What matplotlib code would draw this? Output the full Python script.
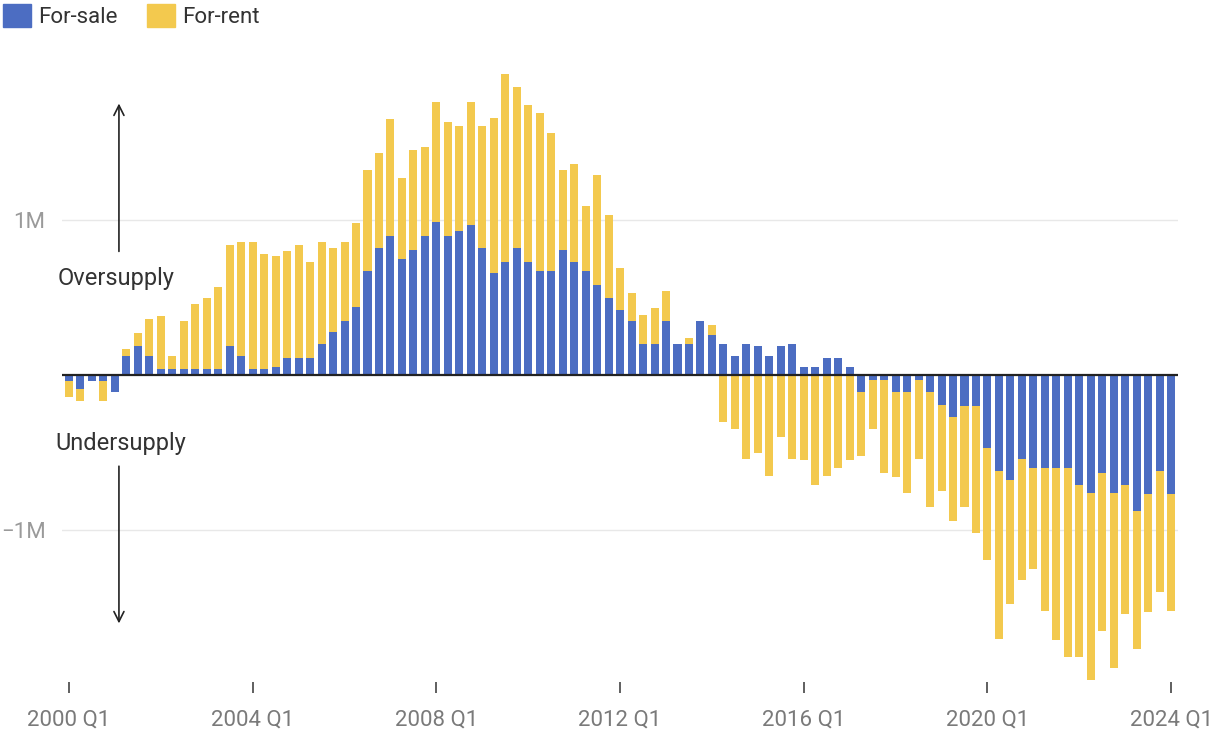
import numpy as np
import matplotlib
matplotlib.use("Agg")
import matplotlib.pyplot as plt
from matplotlib.patches import Patch

plt.rcParams['font.family'] = ['Roboto', 'DejaVu Sans']

# quarterly housing supply gap, millions of units, 2000 Q1 .. 2024 Q1
start_year = 2000
for_sale = [-0.04, -0.09, -0.04, -0.04, -0.11, 0.12, 0.19, 0.12, 0.04, 0.04,
            0.04, 0.04, 0.04, 0.04, 0.19, 0.12, 0.04, 0.04, 0.05, 0.11,
            0.11, 0.11, 0.20, 0.28, 0.35, 0.44, 0.67, 0.82, 0.90, 0.75,
            0.81, 0.90, 0.99, 0.90, 0.93, 0.97, 0.82, 0.66, 0.73, 0.82,
            0.73, 0.67, 0.67, 0.81, 0.73, 0.67, 0.58, 0.50, 0.42, 0.35,
            0.20, 0.20, 0.35, 0.20, 0.20, 0.35, 0.26, 0.20, 0.12, 0.20,
            0.19, 0.12, 0.19, 0.20, 0.05, 0.05, 0.11, 0.11, 0.05, -0.11,
            -0.03, -0.03, -0.11, -0.11, -0.03, -0.11, -0.19, -0.27, -0.20, -0.20,
            -0.47, -0.62, -0.68, -0.54, -0.60, -0.60, -0.60, -0.60, -0.71, -0.76,
            -0.63, -0.76, -0.71, -0.88, -0.77, -0.62, -0.77]
for_rent = [-0.10, -0.08, 0.00, -0.13, 0.00, 0.05, 0.08, 0.24, 0.34, 0.08,
            0.31, 0.42, 0.46, 0.53, 0.65, 0.74, 0.82, 0.74, 0.72, 0.69,
            0.73, 0.62, 0.66, 0.54, 0.51, 0.54, 0.65, 0.61, 0.75, 0.52,
            0.64, 0.57, 0.77, 0.73, 0.68, 0.79, 0.79, 1.00, 1.21, 1.04,
            1.01, 1.02, 0.89, 0.51, 0.63, 0.42, 0.71, 0.53, 0.27, 0.18,
            0.19, 0.23, 0.19, 0.00, 0.04, 0.00, 0.06, -0.30, -0.35, -0.54,
            -0.50, -0.65, -0.40, -0.54, -0.55, -0.71, -0.65, -0.60, -0.55, -0.41,
            -0.32, -0.60, -0.55, -0.65, -0.51, -0.74, -0.56, -0.67, -0.65, -0.82,
            -0.72, -1.08, -0.80, -0.78, -0.65, -0.92, -1.11, -1.22, -1.11, -1.21,
            -1.02, -1.13, -0.83, -0.89, -0.76, -0.78, -0.75]

blue = "#4C6DC2"
yellow = "#F3C94E"

sale = np.array(for_sale)
rent = np.array(for_rent)
x = np.arange(len(sale))
# rent stacks on top of sale when both point the same way
rent_bottom = np.where(np.sign(sale) == np.sign(rent), sale, 0)

fig = plt.figure(figsize=(12.13, 7.33), dpi=100)
ax = fig.add_axes([0.0512, 0.0696, 0.920, 0.8416])

ax.bar(x, sale, width=0.7, color=blue, zorder=2)
ax.bar(x, rent, width=0.7, bottom=rent_bottom, color=yellow, zorder=2)

ax.set_xlim(-0.6, 96.6)
ax.set_ylim(-1.98, 2.0)
ax.axhline(0, color="#222222", lw=1.6, zorder=3)

ax.set_yticks([-1, 1])
ax.set_yticklabels(["\u22121M", "1M"])
ax.grid(axis="y", color="#e8e8e8", lw=1, zorder=0)
ax.tick_params(axis="y", length=0, pad=12, labelsize=16, labelcolor="#9a9a9a")

ticks = x[::16]
ax.set_xticks(ticks)
ax.set_xticklabels(["%d Q1" % (start_year + t // 4) for t in ticks])
ax.tick_params(axis="x", length=8, width=1.2, color="#444444", pad=12,
               labelsize=16, labelcolor="#7a7a7a")

for s in ax.spines.values():
    s.set_visible(False)

# over/under supply hints on the left
ax.text(4.1, 0.62, "Oversupply", fontsize=17, color="#333333",
        ha="center", va="center")
ax.text(4.5, -0.44, "Undersupply", fontsize=17, color="#333333",
        ha="center", va="center")
ax.annotate("", xy=(4.35, 1.77), xytext=(4.35, 0.78),
            arrowprops=dict(arrowstyle="->", color="#222222", lw=1.2,
                            mutation_scale=18))
ax.annotate("", xy=(4.35, -1.62), xytext=(4.35, -0.57),
            arrowprops=dict(arrowstyle="->", color="#222222", lw=1.2,
                            mutation_scale=18))

handles = [Patch(color=blue, label="For-sale"), Patch(color=yellow, label="For-rent")]
fig.legend(handles=handles, loc="upper left", bbox_to_anchor=(-0.014, 1.022),
           ncol=2, frameon=False, fontsize=16, handlelength=1.25,
           handleheight=1.25, handletextpad=0.35, columnspacing=1.3,
           labelcolor="#333333")

fig.savefig("out.png", dpi=100, facecolor="white")
